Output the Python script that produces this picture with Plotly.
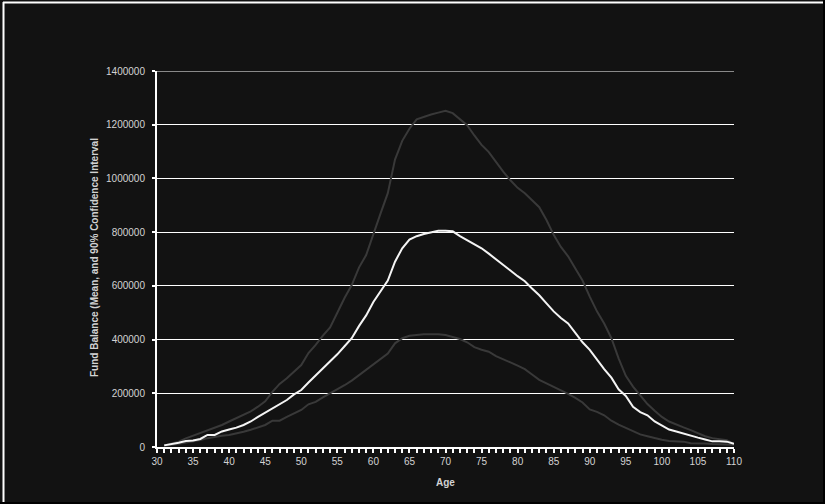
import plotly.graph_objects as go

ages = list(range(31, 111))

mean_balance = [
    6000, 10000, 16000, 22000, 24000, 30000, 45000, 45000, 58000, 65000,
    72000, 82000, 95000, 112000, 128000, 145000, 160000, 175000, 196000, 212000,
    240000, 266000, 293000, 320000, 345000, 375000, 405000, 450000, 490000, 540000,
    580000, 620000, 690000, 740000, 772000, 785000, 793000, 800000, 805000, 805000,
    803000, 785000, 770000, 758000, 740000, 720000, 698000, 677000, 657000, 636000,
    617000, 590000, 565000, 535000, 505000, 480000, 460000, 425000, 390000, 362000,
    324000, 290000, 258000, 215000, 190000, 150000, 130000, 118000, 95000, 80000,
    65000, 58000, 50000, 41000, 35000, 28000, 21000, 21000, 20000, 12000,
]

upper_balance = [
    6000, 12000, 20000, 32000, 42000, 50000, 60000, 70000, 82000, 95000,
    107000, 120000, 133000, 150000, 170000, 205000, 235000, 256000, 280000, 305000,
    350000, 380000, 415000, 445000, 500000, 555000, 603000, 668000, 715000, 795000,
    870000, 945000, 1070000, 1140000, 1185000, 1220000, 1230000, 1238000, 1245000, 1252000,
    1243000, 1220000, 1198000, 1160000, 1125000, 1098000, 1060000, 1025000, 993000, 965000,
    945000, 918000, 893000, 845000, 790000, 745000, 710000, 665000, 620000, 560000,
    505000, 460000, 405000, 330000, 265000, 225000, 194000, 160000, 135000, 112000,
    95000, 83000, 73000, 63000, 52000, 40000, 33000, 28000, 25000, 12000,
]

lower_balance = [
    5000, 8000, 12000, 17000, 21000, 26000, 33000, 38000, 42000, 45000,
    50000, 57000, 64000, 72000, 82000, 98000, 98000, 112000, 126000, 138000,
    159000, 168000, 185000, 200000, 213000, 230000, 247000, 267000, 286000, 305000,
    325000, 348000, 386000, 405000, 414000, 418000, 420000, 420000, 420000, 417000,
    410000, 402000, 390000, 372000, 362000, 355000, 338000, 325000, 315000, 303000,
    290000, 270000, 250000, 237000, 225000, 212000, 198000, 183000, 166000, 140000,
    131000, 118000, 98000, 83000, 70000, 57000, 47000, 40000, 33000, 27000,
    22000, 22000, 20000, 14000, 14000, 13000, 11000, 9000, 9000, 8000,
]

y_ticks = [0, 200000, 400000, 600000, 800000, 1000000, 1200000, 1400000]
x_ticks = list(range(30, 111, 5))

BG = "#121212"
GRAY = "#393939"
TXT = "#d2d2d2"

fig = go.Figure()
fig.add_trace(go.Scatter(x=ages, y=upper_balance, mode="lines",
                         line=dict(color=GRAY, width=2), name="Upper 90%"))
fig.add_trace(go.Scatter(x=ages, y=lower_balance, mode="lines",
                         line=dict(color=GRAY, width=2), name="Lower 90%"))
fig.add_trace(go.Scatter(x=ages, y=mean_balance, mode="lines",
                         line=dict(color="#f4f4f4", width=2), name="Mean"))

L, R, T, B = 157, 734, 71, 447
W, H = 825, 504

def px(x):
    return (x - L) / (R - L)

def py(y):
    return (B - y) / (B - T)

shapes = [
    dict(type="line", xref="paper", yref="y", x0=0, x1=1, y0=y_ticks[-1], y1=y_ticks[-1],
         line=dict(color="white", width=1), layer="below"),
    dict(type="line", xref="paper", yref="paper", x0=px(3), x1=px(823), y0=py(2.5), y1=py(2.5),
         line=dict(color="white", width=2)),
    dict(type="line", xref="paper", yref="paper", x0=px(3.5), x1=px(3.5), y0=py(2), y1=py(502),
         line=dict(color="white", width=2)),
    dict(type="rect", xref="paper", yref="paper", x0=px(823), x1=px(826), y0=py(-1), y1=py(505),
         fillcolor="black", line=dict(width=0)),
    dict(type="rect", xref="paper", yref="paper", x0=px(-1), x1=px(826), y0=py(502), y1=py(505),
         fillcolor="black", line=dict(width=0)),
]

fig.update_layout(
    width=W, height=H,
    margin=dict(l=L, r=W - R, t=T, b=H - B),
    paper_bgcolor=BG, plot_bgcolor=BG,
    showlegend=False,
    font=dict(family="Liberation Sans, Arial, sans-serif", size=10, color=TXT),
    shapes=shapes,
    xaxis=dict(
        range=[30, 110], tickmode="array", tickvals=x_ticks,
        ticktext=[str(v) for v in x_ticks],
        showgrid=False, zeroline=False,
        showline=True, linecolor="white", linewidth=2,
        ticks="outside", ticklen=4, tickwidth=2, tickcolor="white",
        minor=dict(tickmode="linear", dtick=1, tick0=30, ticks="outside",
                   ticklen=4, tickwidth=2, tickcolor="white", showgrid=False),
        tickfont=dict(size=10, color=TXT),
    ),
    yaxis=dict(
        range=[0, 1400000], tickmode="array", tickvals=y_ticks,
        ticktext=[str(v) for v in y_ticks],
        showgrid=True, gridcolor="white", gridwidth=1, zeroline=False,
        showline=True, linecolor="white", linewidth=2,
        ticks="outside", ticklen=3, tickwidth=2, tickcolor="white",
        ticklabelstandoff=5,
        tickfont=dict(size=10, color=TXT),
    ),
    annotations=[
        dict(text="<b>Age</b>", xref="paper", yref="paper", x=px(445), y=py(482),
             showarrow=False, xanchor="center", yanchor="middle",
             font=dict(size=10, color=TXT)),
        dict(text="<b>Fund Balance (Mean, and 90% Confidence Interval</b>", xref="paper", yref="paper",
             x=px(94), y=py(258), textangle=-90, showarrow=False,
             xanchor="center", yanchor="middle", font=dict(size=10, color=TXT)),
    ],
)

fig.write_html(
    "out.html",
    config={"displayModeBar": False},
    post_script="document.body.style.margin='0';document.body.style.padding='0';"
                "document.body.style.overflow='hidden';document.body.style.background='#121212';",
)
